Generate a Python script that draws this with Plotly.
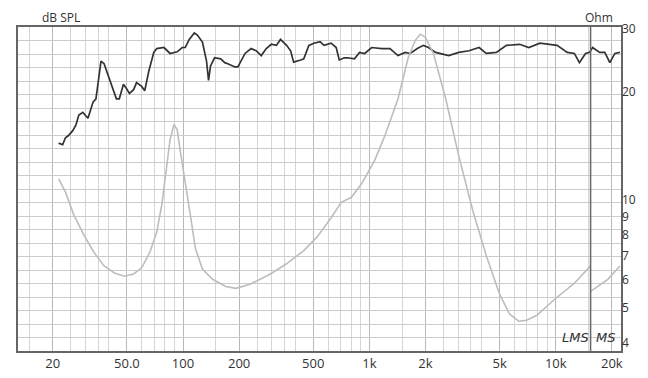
import plotly.graph_objects as go
import math

# ---- data ----
spl_freq = [21.5, 22.6, 23.4, 24.3, 25.6, 26.6, 27.6, 29.0, 30.9, 32.9, 34.1, 36.3, 37.7, 41.2, 43.9,
            45.5, 47.9, 49.7, 51.6, 54.3, 56.3, 60.0, 62.3, 65.5, 69.7, 72.3, 79.0, 85.2, 93.0, 99.0,
            102.8, 108.0, 115.0, 119.4, 127.1, 133.7, 137.1, 140.5, 147.7, 159.3, 167.5, 173.9, 189.8,
            197.0, 215.1, 231.9, 246.9, 262.8, 279.8, 297.9, 317.1, 333.4, 359.4, 377.9, 392.3, 428.2,
            444.6, 473.4, 504.0, 543.3, 571.2, 623.5, 663.7, 689.1, 733.7, 762.0, 831.8, 885.5, 942.6,
            1029, 1166, 1289, 1425, 1555, 1656, 1808, 1949, 2075, 2265, 2666, 3020, 3422, 3880, 4237,
            4801, 5439, 6402, 7165, 8227, 10170, 11530, 12590, 13400, 14450, 15190, 15770, 17220,
            18330, 19510, 20770, 22120]
spl_db = [68.5, 68.2, 69.5, 69.9, 70.8, 71.8, 73.7, 74.2, 73.1, 76.1, 76.7, 83.7, 83.2, 79.4, 76.7,
          76.7, 79.4, 78.6, 77.7, 78.4, 79.7, 79.0, 78.2, 81.8, 85.3, 86.0, 86.2, 85.1, 85.4, 86.2,
          86.2, 87.7, 88.9, 88.5, 87.2, 83.7, 80.1, 82.8, 84.3, 84.1, 83.4, 83.2, 82.6,
          82.6, 85.1, 86.0, 85.6, 84.7, 86.0, 86.8, 86.6, 87.7, 86.6, 85.6, 83.5, 83.9,
          84.1, 86.6, 87.0, 87.3, 86.6, 87.0, 86.2, 83.9, 84.3, 84.3, 84.1, 85.3, 85.1,
          86.2, 86.0, 86.0, 84.7, 85.3, 85.1, 86.0, 86.6, 86.2, 85.3, 84.7, 85.3, 85.6, 86.2, 85.1,
          85.3, 86.6, 86.8, 86.2, 87.0, 86.6, 85.3, 85.1, 83.4, 85.1, 85.3, 86.2, 85.3,
          85.3, 83.4, 85.1, 85.3]

imp_freq_lms = [21.5, 23.4, 25.9, 29.4, 33.3, 37.7, 42.8, 48.5, 54.3, 60.0, 66.3, 72.3, 77.0, 82.0,
                85.2, 89.5, 93.0, 96.5, 102.8, 109.4, 116.5, 127.1, 144.1, 169.6, 192.2, 228.9,
                294.2, 359.4, 444.6, 523.3, 623.5, 706.7, 800.9, 907.8, 1068, 1211, 1425, 1615,
                1763, 1877, 1998, 2209, 2567, 3020, 3599, 4237, 4986, 5648, 6323, 6990, 7922,
                9799, 12590, 15380]
imp_ohm_lms = [11.47, 10.53, 9.12, 7.99, 7.15, 6.56, 6.27, 6.14, 6.23, 6.48, 7.15, 8.15, 9.74, 12.42,
               14.74, 16.27, 15.74, 13.80, 11.33, 9.12, 7.34, 6.43, 6.02, 5.75, 5.68, 5.83,
               6.23, 6.65, 7.24, 7.89, 8.94, 9.86, 10.19, 11.11, 12.92, 15.13, 19.17, 24.95,
               27.90, 29.02, 28.45, 25.61, 19.17, 13.27, 9.30, 7.01, 5.49, 4.82, 4.60, 4.63, 4.78,
               5.28, 5.87, 6.56]
imp_freq_ms = [15380, 19030, 22120]
imp_ohm_ms = [5.57, 6.02, 6.56]

x_tick_vals = [20, 50, 100, 200, 500, 1000, 2000, 5000, 10000, 20000]
x_tick_text = ["20", "50.0", "100", "200", "500", "1k", "2k", "5k", "10k", "20k"]
ohm_tick_vals = [4, 5, 6, 7, 8, 9, 10, 20, 30]
ohm_tick_text = ["4", "5", "6", "7", "8", "9", "10", "20", "30"]

# ---- figure ----
FONT = "Open Sans"
fig = go.Figure()

fig.add_trace(go.Scatter(x=imp_freq_lms, y=imp_ohm_lms, mode="lines", yaxis="y2",
                         line=dict(color="#bdbdbd", width=1.6), showlegend=False, hoverinfo="skip"))
fig.add_trace(go.Scatter(x=imp_freq_ms, y=imp_ohm_ms, mode="lines", yaxis="y2",
                         line=dict(color="#bdbdbd", width=1.6), showlegend=False, hoverinfo="skip"))
fig.add_trace(go.Scatter(x=spl_freq, y=spl_db, mode="lines", yaxis="y",
                         line=dict(color="#333333", width=1.7), showlegend=False, hoverinfo="skip"))

grid_minor = [m * 10 ** e for e in range(1, 5) for m in (1, 1.5, 2, 2.5, 3, 3.5, 4, 5, 6, 7, 8, 9)]

# page body has an 8px default margin: figure is 640x370 placed at (8, 8)
fig.update_layout(
    width=640, height=370,
    margin=dict(l=10, r=27, t=19, b=27, autoexpand=False),
    paper_bgcolor="white", plot_bgcolor="white",
    font=dict(family=FONT, size=13, color="#333333"),
    xaxis=dict(type="log", range=[1.1145, 4.3502], automargin=False,
               tickmode="array", tickvals=x_tick_vals, ticktext=x_tick_text,
               showgrid=True, gridcolor="#b8b8b8", gridwidth=1,
               minor=dict(tickmode="array", tickvals=grid_minor, showgrid=True,
                          gridcolor="#d6d6d6", gridwidth=1, ticks=""),
               showline=True, linecolor="#666666", linewidth=1.5, mirror=True,
               ticks="", zeroline=False, tickfont=dict(size=13, color="#333333")),
    yaxis=dict(range=[30, 90], dtick=2.5, showticklabels=False, ticks="", automargin=False,
               showgrid=True, gridcolor="#cccccc", gridwidth=1,
               showline=True, linecolor="#666666", linewidth=1.5, mirror=True,
               zeroline=False),
    yaxis2=dict(type="log", range=[0.5798, 1.4827], overlaying="y", side="right",
                automargin=False,
                tickmode="array", tickvals=ohm_tick_vals, ticktext=ohm_tick_text,
                showgrid=False, ticks="", showline=False, zeroline=False,
                tickfont=dict(size=12, color="#333333")),
)

# LMS | MS divider
fig.add_shape(type="line", xref="x", yref="paper", x0=imp_freq_ms[0], x1=imp_freq_ms[0],
              y0=0, y1=1, line=dict(color="#666666", width=1.5))

fig.add_annotation(text="dB SPL", xref="paper", yref="paper", x=0.037, y=1.0, yshift=10,
                   showarrow=False, xanchor="left", yanchor="middle",
                   font=dict(family=FONT, size=12, color="#333333"))
fig.add_annotation(text="Ohm", xref="paper", yref="paper", x=0.99, y=1.0, yshift=10,
                   showarrow=False, xanchor="right", yanchor="middle",
                   font=dict(family=FONT, size=12, color="#333333"))
fig.add_annotation(text="<i>LMS</i>", xref="x", yref="paper", x=math.log10(12800), y=0.0, yshift=14,
                   showarrow=False, xanchor="center", yanchor="middle",
                   font=dict(family="DejaVu Sans", size=13, color="#333333"))
fig.add_annotation(text="<i>MS</i>", xref="x", yref="paper", x=math.log10(18600), y=0.0, yshift=14,
                   showarrow=False, xanchor="center", yanchor="middle",
                   font=dict(family="DejaVu Sans", size=13, color="#333333"))

fig.write_html("out.html")
